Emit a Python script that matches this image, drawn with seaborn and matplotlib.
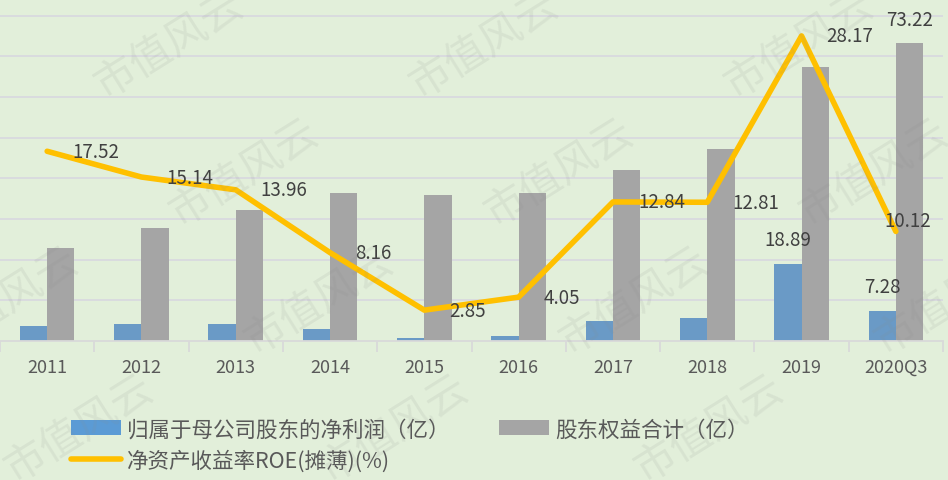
import numpy as np
import pandas as pd
import matplotlib
matplotlib.use("Agg")
import matplotlib.pyplot as plt
from matplotlib.patches import Patch
from matplotlib.lines import Line2D
import seaborn as sns

# data
years = ["2011", "2012", "2013", "2014", "2015", "2016", "2017", "2018", "2019", "2020Q3"]
net_profit = [3.6, 4.1, 4.1, 2.9, 0.8, 1.15, 4.9, 5.7, 18.89, 7.28]        # 归属于母公司股东的净利润（亿）
equity = [22.8, 27.8, 32.2, 36.4, 35.9, 36.4, 42.0, 47.2, 67.3, 73.22]     # 股东权益合计（亿）
roe = [17.52, 15.14, 13.96, 8.16, 2.85, 4.05, 12.84, 12.81, 28.17, 10.12]  # 净资产收益率ROE(摊薄)(%)

name_profit = "归属于母公司股东的净利润（亿）"
name_equity = "股东权益合计（亿）"
name_roe = "净资产收益率ROE(摊薄)(%)"

bg = "#E2EFDA"
blue = "#5B9BD5"
gray = "#A5A5A5"
gold = "#FFC000"
txt = "#404040"

sns.set_theme(style="white")
plt.rcParams["font.family"] = ["Noto Sans CJK SC", "DejaVu Sans"]

df = pd.DataFrame({
    "year": years * 2,
    "series": [name_profit] * len(years) + [name_equity] * len(years),
    "value": net_profit + equity,
})

fig = plt.figure(figsize=(9.48, 4.81), dpi=100, facecolor=bg)
ax = fig.add_axes([0.0, 1 - 342 / 481, 943 / 948, 342 / 481])
ax.set_facecolor("none")

sns.barplot(data=df, x="year", y="value", hue="series", order=years,
            palette=[blue, gray], width=0.58, ax=ax, legend=False,
            edgecolor="none", linewidth=0, zorder=2)
ax.set_ylim(0, 84.1)
ax.set_xlim(-0.5, len(years) - 0.5)
ax.set_yticks(np.arange(10, 90, 10))
ax.yaxis.grid(True, color="#D9D9DF", linewidth=1.3, zorder=0)
ax.set_axisbelow(True)
ax.set_yticklabels([])
ax.tick_params(axis="y", length=0)
ax.set_xlabel("")
ax.set_ylabel("")
for s in ["top", "left", "right"]:
    ax.spines[s].set_visible(False)
ax.spines["bottom"].set_color("#D9D9D9")
ax.spines["bottom"].set_linewidth(1.3)
ax.tick_params(axis="x", length=0, pad=12, labelsize=13, labelcolor="#595959")
ax.set_xticks(np.arange(-0.5, len(years), 1.0), minor=True)
ax.tick_params(axis="x", which="minor", length=8, width=1.3, color="#D9D9D9", bottom=True)

# selected bar labels
ax.annotate(f"{net_profit[8]:.2f}", (8 - 0.145, net_profit[8]), xytext=(0, 18),
            textcoords="offset points", ha="center", va="center", fontsize=13.5, color=txt)
ax.annotate(f"{net_profit[9]:.2f}", (9 - 0.145, net_profit[9]), xytext=(0, 18),
            textcoords="offset points", ha="center", va="center", fontsize=13.5, color=txt)
ax.annotate(f"{equity[9]:.2f}", (9 + 0.145, equity[9]), xytext=(0, 17),
            textcoords="offset points", ha="center", va="center", fontsize=13.5, color=txt)

# ROE line on secondary axis
ax2 = ax.twinx()
ax2.set_facecolor("none")
x_pos = np.arange(len(years))
sns.lineplot(x=x_pos, y=roe, ax=ax2, color=gold, linewidth=4, zorder=3)
ax2.set_ylim(0, 342 / 10.83)
ax2.set_yticks([])
ax2.set_ylabel("")
for s in ax2.spines.values():
    s.set_visible(False)
for i, v in enumerate(roe):
    if i == len(roe) - 1:
        off = (-8, 8)
    else:
        off = (18, 0)
    ax2.annotate(f"{v:.2f}", (i, v), xytext=off, textcoords="offset points",
                 ha="left", va="center", fontsize=13.5, color=txt)

# legend below the plot
handles = [
    Patch(facecolor=blue, edgecolor="none"),
    Line2D([0], [0], color=gold, linewidth=4),
    Patch(facecolor=gray, edgecolor="none"),
]
labels = [name_profit, name_roe, name_equity]
fig.legend(handles, labels, ncol=2, loc="upper left", bbox_to_anchor=(52 / 948, 1 - 400 / 481),
           frameon=False, fontsize=15.5, handlelength=2.3, handleheight=0.7,
           handletextpad=0.3, columnspacing=2.3, labelspacing=0.4, labelcolor="#595959")

# watermark
for r in range(4):
    y = 45 + 128 * r
    x0 = 170 + 75 * r
    for k in range(-2, 4):
        x = x0 + 315 * k
        if -60 < x < 1000:
            fig.text(x / 948, 1 - y / 481, "市值风云", rotation=32, ha="center", va="center",
                     fontsize=30, color="#8a8a8a", alpha=0.12,
                     family=["Noto Sans CJK SC"], zorder=10)

fig.savefig("out.png", dpi=100, facecolor=bg)
